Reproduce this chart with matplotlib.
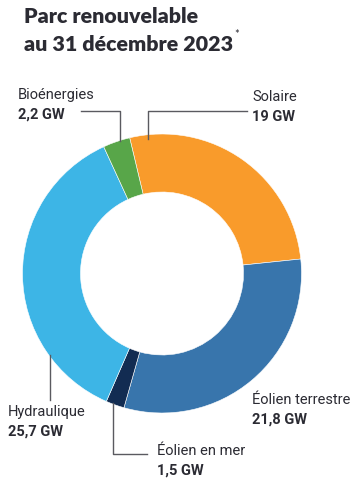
import matplotlib
matplotlib.use("Agg")
import matplotlib.pyplot as plt
from matplotlib import font_manager as fm

categories = ["Solaire", "Éolien terrestre", "Éolien en mer", "Hydraulique", "Bioénergies"]
values = [19.0, 21.8, 1.5, 25.7, 2.2]
value_labels = ["19 GW", "21,8 GW", "1,5 GW", "25,7 GW", "2,2 GW"]
colors = ["#F99B2B", "#3875AC", "#122C52", "#3DB5E6", "#58A649"]

names = {f.name for f in fm.fontManager.ttflist}
label_font = "Liberation Sans Narrow" if "Liberation Sans Narrow" in names else "Roboto"
title_font = "Lato"

W, H = 358, 490
fig = plt.figure(figsize=(W / 100, H / 100), dpi=100)
ax = fig.add_axes([0, 0, 1, 1])

def Y(py):
    return H - py

cx, cy, R = 162, 273.5, 139.5
ax.pie(values, colors=colors, startangle=103.4, counterclock=False,
       radius=R, center=(cx, Y(cy)),
       wedgeprops=dict(width=58, edgecolor="white", linewidth=0.4))
ax.set_xlim(0, W)
ax.set_ylim(0, H)
ax.set_aspect("equal")
ax.axis("off")

tc = "#2B2B33"
ax.text(24, Y(17), "Parc renouvelable", fontsize=15.4, fontweight="heavy",
        family=title_font, color=tc, va="center", ha="left")
t2 = ax.text(24, Y(45), "au 31 décembre 2023", fontsize=15.4, fontweight="heavy",
             family=title_font, color=tc, va="center", ha="left")
fig.canvas.draw()
bb = t2.get_window_extent()
ax.text(bb.x1 + 1, Y(35), "*", fontsize=8, family=title_font, color=tc,
        va="center", ha="left")

lc = "#5A5A60"
lw = 1.0
# Bioénergies
ax.plot([81, 120, 120], [Y(111.5), Y(111.5), Y(141)], color=lc, lw=lw)
# Solaire
ax.plot([148, 148, 247], [Y(139), Y(111.5), Y(111.5)], color=lc, lw=lw)
# Hydraulique
ax.plot([50, 50], [Y(355), Y(400)], color=lc, lw=lw)
# Éolien en mer
ax.plot([113, 113, 147], [Y(403), Y(454), Y(454)], color=lc, lw=lw)

fs = 10.5
def lab(x, y1, name, val):
    ax.text(x, Y(y1), name, fontsize=fs, family=label_font, color=tc, va="center", ha="left")
    ax.text(x, Y(y1 + 20), val, fontsize=fs, fontweight="bold", family=label_font,
            color=tc, va="center", ha="left")

lab(18, 95, "Bioénergies", "2,2 GW")
lab(252, 97, "Solaire", "19 GW")
lab(8, 412, "Hydraulique", "25,7 GW")
lab(252, 400, "Éolien terrestre", "21,8 GW")
lab(157, 451, "Éolien en mer", "1,5 GW")

fig.savefig("out.png", dpi=100)
